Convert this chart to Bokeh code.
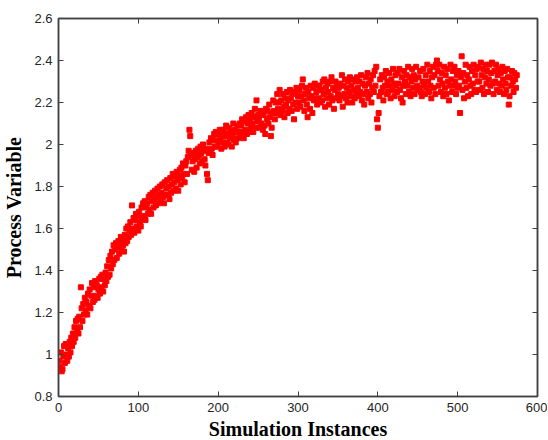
from bokeh.plotting import figure
from bokeh.models import LinearAxis, FixedTicker, Range1d, ColumnDataSource, CustomJSTickFormatter
from bokeh.embed import file_html
from bokeh.resources import INLINE

# ---- data (sample index -> process variable) ----
y_values = [
    0.97, 0.94, 1.01, 0.92, 0.93, 0.99, 1.04, 0.96, 1.05, 1.00,
    0.97, 1.03, 0.99, 1.06, 1.01, 1.08, 1.04, 1.10, 1.06, 1.13,
    1.08, 1.16, 1.11, 1.17, 1.10,
    1.18, 1.13, 1.32, 1.22, 1.16, 1.24, 1.19, 1.27, 1.21, 1.25,
    1.19, 1.29, 1.23, 1.31, 1.22, 1.28, 1.34, 1.25, 1.32, 1.26,
    1.35, 1.28, 1.33, 1.27, 1.31,
    1.36, 1.29, 1.37, 1.32, 1.38, 1.30, 1.36, 1.33, 1.39, 1.35,
    1.42, 1.37, 1.45, 1.38, 1.47, 1.41, 1.49, 1.43, 1.52, 1.45,
    1.50, 1.53, 1.46, 1.51, 1.54,
    1.48, 1.53, 1.56, 1.50, 1.55, 1.52, 1.49, 1.57, 1.53, 1.60,
    1.54, 1.61, 1.56, 1.59, 1.63, 1.57, 1.71, 1.60, 1.65, 1.58,
    1.64, 1.67, 1.61, 1.66, 1.59,
    1.68, 1.63, 1.61, 1.70, 1.65, 1.72, 1.66, 1.73, 1.64, 1.70,
    1.72, 1.67, 1.75, 1.69, 1.76, 1.67, 1.73, 1.77, 1.70, 1.74,
    1.78, 1.71, 1.75, 1.79, 1.72,
    1.76, 1.80, 1.73, 1.77, 1.81, 1.75, 1.72, 1.82, 1.76, 1.79,
    1.83, 1.76, 1.80, 1.74, 1.84, 1.77, 1.81, 1.86, 1.78, 1.82,
    1.85, 1.79, 1.87, 1.83, 1.78,
    1.85, 1.88, 1.81, 1.89, 1.84, 1.91, 1.86, 1.82, 1.90, 1.92,
    1.86, 1.94, 1.97, 2.07, 2.04, 1.95, 1.88, 1.92, 1.96, 1.87,
    1.93, 1.97, 1.89, 1.94, 1.98,
    1.95, 1.91, 1.99, 1.96, 1.92, 2.00, 1.97, 1.93, 1.90, 1.98,
    1.86, 1.83, 1.96, 2.01, 1.97, 2.03, 1.98, 1.95, 2.02, 2.05,
    1.99, 2.06, 2.02, 1.99, 2.05,
    2.01, 2.07, 2.03, 1.98, 2.05, 2.01, 2.07, 1.99, 2.04, 2.09,
    2.01, 2.05, 2.00, 2.08, 2.03, 2.06, 1.99, 2.04, 2.10, 2.02,
    2.07, 2.01, 2.06, 2.09, 2.03,
    2.06, 2.10, 2.04, 2.09, 2.12, 2.06, 2.03, 2.11, 2.07, 2.13,
    2.05, 2.10, 2.14, 2.06, 2.12, 2.08, 2.15, 2.10, 2.06, 2.13,
    2.17, 2.08, 2.21, 2.11, 2.14,
    2.12, 2.08, 2.16, 2.10, 2.15, 2.07, 2.14, 2.09, 2.05, 2.17,
    2.12, 2.16, 2.10, 2.19, 2.13, 2.04, 2.08, 2.15, 2.21, 2.16,
    2.12, 2.20, 2.15, 2.24, 2.17,
    2.20, 2.26, 2.14, 2.21, 2.16, 2.24, 2.18, 2.13, 2.22, 2.19,
    2.25, 2.15, 2.21, 2.17, 2.26, 2.22, 2.16, 2.24, 2.19, 2.12,
    2.25, 2.20, 2.27, 2.17, 2.23,
    2.20, 2.26, 2.18, 2.23, 2.28, 2.31, 2.21, 2.16, 2.24, 2.27,
    2.19, 2.13, 2.25, 2.22, 2.17, 2.28, 2.23, 2.15, 2.27, 2.21,
    2.29, 2.22, 2.25, 2.19, 2.28,
    2.22, 2.28, 2.20, 2.26, 2.21, 2.30, 2.24, 2.31, 2.18, 2.27,
    2.22, 2.29, 2.25, 2.19, 2.30, 2.23, 2.32, 2.21, 2.27, 2.17,
    2.26, 2.30, 2.22, 2.28, 2.24,
    2.27, 2.21, 2.29, 2.23, 2.33, 2.18, 2.28, 2.24, 2.31, 2.22,
    2.27, 2.20, 2.30, 2.25, 2.32, 2.23, 2.28, 2.20, 2.31, 2.26,
    2.22, 2.30, 2.24, 2.32, 2.27,
    2.23, 2.30, 2.25, 2.33, 2.21, 2.29, 2.24, 2.19, 2.28, 2.32,
    2.25, 2.34, 2.22, 2.29, 2.24, 2.31, 2.20, 2.27, 2.33, 2.25,
    2.35, 2.28, 2.37, 2.12, 2.08,
    2.15, 2.23, 2.31, 2.25, 2.33, 2.27, 2.21, 2.32, 2.28, 2.35,
    2.24, 2.30, 2.25, 2.34, 2.28, 2.22, 2.31, 2.26, 2.36, 2.29,
    2.23, 2.33, 2.28, 2.25, 2.34,
    2.29, 2.36, 2.26, 2.22, 2.32, 2.20, 2.28, 2.35, 2.30, 2.24,
    2.33, 2.28, 2.37, 2.25, 2.32, 2.23, 2.30, 2.36, 2.27, 2.33,
    2.24, 2.31, 2.37, 2.28, 2.26,
    2.32, 2.27, 2.35, 2.25, 2.23, 2.30, 2.36, 2.28, 2.24, 2.33,
    2.27, 2.38, 2.30, 2.25, 2.35, 2.28, 2.22, 2.32, 2.37, 2.27,
    2.33, 2.24, 2.38, 2.40, 2.35,
    2.28, 2.38, 2.31, 2.25, 2.34, 2.29, 2.23, 2.37, 2.27, 2.33,
    2.24, 2.36, 2.30, 2.21, 2.28, 2.38, 2.31, 2.25, 2.35, 2.28,
    2.37, 2.30, 2.24, 2.33, 2.27,
    2.35, 2.28, 2.15, 2.32, 2.42, 2.26, 2.34, 2.22, 2.30, 2.38,
    2.27, 2.33, 2.23, 2.31, 2.37, 2.28, 2.24, 2.35, 2.29, 2.38,
    2.26, 2.33, 2.25, 2.36, 2.30,
    2.37, 2.30, 2.26, 2.39, 2.33, 2.27, 2.36, 2.24, 2.32, 2.38,
    2.29, 2.35, 2.25, 2.31, 2.38, 2.28, 2.34, 2.39, 2.29, 2.24,
    2.35, 2.30, 2.38, 2.26, 2.33,
    2.36, 2.29, 2.25, 2.34, 2.28, 2.37, 2.31, 2.24, 2.35, 2.29,
    2.26, 2.36, 2.32, 2.19, 2.23, 2.32, 2.28, 2.35, 2.30, 2.25,
    2.34, 2.31, 2.27, 2.33,
]
x_values = list(range(1, len(y_values) + 1))

x_ticks = [0, 100, 200, 300, 400, 500, 600]
x_tick_labels = ["0", "100", "200", "300", "400", "500", "600"]
y_ticks = [0.8, 1.0, 1.2, 1.4, 1.6, 1.8, 2.0, 2.2, 2.4, 2.6]
y_tick_labels = ["0.8", "1", "1.2", "1.4", "1.6", "1.8", "2", "2.2", "2.4", "2.6"]

x_label = "Simulation Instances"
y_label = "Process Variable"

AX = "#404040"
TXT = "#262626"

p = figure(
    frame_width=479, frame_height=378,
    min_border_left=51, min_border_right=10, min_border_top=18, min_border_bottom=0,
    x_range=Range1d(0, 600), y_range=Range1d(0.8, 2.6),
    output_backend="svg", toolbar_location=None,
    x_axis_label=x_label, y_axis_label=y_label,
)
p.xgrid.visible = False
p.ygrid.visible = False
p.background_fill_color = "white"
p.border_fill_color = "white"
p.outline_line_color = AX
p.outline_line_width = 1.5

src = ColumnDataSource(dict(x=x_values, y=y_values))
p.scatter("x", "y", source=src, marker="square", size=5,
          fill_color="#ff0000", line_color="#ff0000", line_width=1)

def style(ax, ticks, labels, show_labels=True):
    ax.ticker = FixedTicker(ticks=ticks)
    if show_labels:
        ax.major_label_overrides = {t: l for t, l in zip(ticks, labels)}
    else:
        ax.formatter = CustomJSTickFormatter(code="return ''")
    ax.minor_tick_line_color = None
    ax.major_tick_in = 5
    ax.major_tick_out = 0
    ax.major_tick_line_color = AX
    ax.major_tick_line_width = 1
    ax.axis_line_color = AX
    ax.axis_line_width = 1.5
    ax.major_label_text_font = "Liberation Sans"
    ax.major_label_text_font_size = "13px"
    ax.major_label_text_color = TXT
    ax.axis_label_text_font = "Liberation Serif"
    ax.axis_label_text_font_style = "bold"
    ax.axis_label_text_font_size = "20px"
    ax.axis_label_text_color = "black"

xa = p.xaxis[0]
ya = p.yaxis[0]
style(xa, x_ticks, x_tick_labels)
style(ya, y_ticks, y_tick_labels)
xa.major_label_standoff = 6
xa.axis_label_standoff = 3
ya.major_label_standoff = 6
ya.axis_label_standoff = 6

# MATLAB-style box ticks on top and right, without labels
top = LinearAxis()
style(top, x_ticks, x_tick_labels, show_labels=False)
top.major_label_standoff = 0
p.add_layout(top, "above")
right = LinearAxis()
style(right, y_ticks, y_tick_labels, show_labels=False)
right.major_label_standoff = 0
p.add_layout(right, "right")

open("out.html", "w").write(file_html(p, INLINE))
